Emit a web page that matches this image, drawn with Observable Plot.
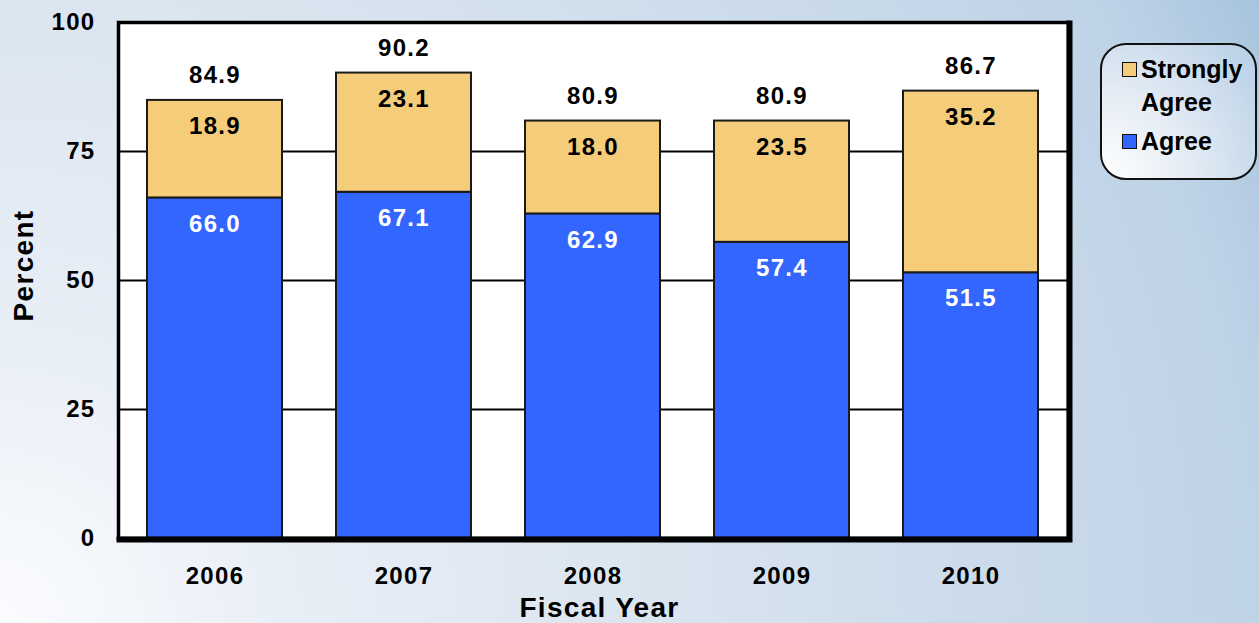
<!DOCTYPE html>
<html><head><meta charset="utf-8">
<script src="https://cdn.jsdelivr.net/npm/d3@7"></script>
<script src="https://cdn.jsdelivr.net/npm/@observablehq/plot@0.6"></script>
<style>
html,body{margin:0;padding:0;}
body{width:1259px;height:623px;overflow:hidden;background:radial-gradient(circle at 0% 100%,#fbfcfe 0px,#e8eef6 300px,#dce6f0 610px,#bfd3e7 1260px,#a7c4de 1405px);font-family:"Liberation Sans",Arial,sans-serif;}
#wrap{position:relative;width:1259px;height:623px;}
#legend{position:absolute;left:1100px;top:43px;width:153px;height:133px;border:2px solid #111;border-radius:26px;background:radial-gradient(circle at 0% 100%,#ffffff 0px,#e3ebf4 90px,#b7cfe6 200px,#a9c5df 240px);font-weight:bold;font-size:25px;color:#000;}
.item{position:absolute;left:20px;display:flex;align-items:flex-start;}
.sw{width:13px;height:13px;border:1.5px solid #111;margin-top:9px;margin-right:4px;flex:none;}
.lab{width:112px;line-height:33px;}
</style>
</head><body>
<div id="wrap"><div id="chart"></div><div id="legend"></div></div>
<script>
const years = ["2006", "2007", "2008", "2009", "2010"];
const agree = [66.0, 67.1, 62.9, 57.4, 51.5];
const strongly = [18.9, 23.1, 18.0, 23.5, 35.2];
const totals = [84.9, 90.2, 80.9, 80.9, 86.7];
const seriesNames = ["Strongly Agree", "Agree"];
const seriesColors = ["#f5cd7a", "#3366ff"];
const yTicks = [0, 25, 50, 75, 100];
const gridTicks = [25, 50, 75];

const rows = [];
years.forEach((y, i) => {
  rows.push({year: y, series: "Agree", value: agree[i]});
  rows.push({year: y, series: "Strongly Agree", value: strongly[i]});
});

const borderMark = (index, scales, values, dims) => {
  const x0 = dims.marginLeft, x1 = dims.width - dims.marginRight;
  const y0 = dims.marginTop, y1 = dims.height - dims.marginBottom;
  const g = d3.create("svg:g");
  g.append("path")
    .attr("d", `M${x1 + 1.5},${y0 - 1.5}V${y1 + 1.5}H${x0 - 1.5}`)
    .attr("fill", "none").attr("stroke", "#000").attr("stroke-width", 6);
  return g.node();
};

const plot = Plot.plot({
  width: 1259,
  height: 623,
  marginLeft: 118,
  marginRight: 191,
  marginTop: 22,
  marginBottom: 85,
  style: {background: "transparent", fontFamily: "'Liberation Sans', Arial, sans-serif", fontWeight: "bold", fontSize: "24px", color: "#000", letterSpacing: "1.3px"},
  x: {type: "band", domain: years, paddingInner: 0.285, paddingOuter: 0.15},
  y: {domain: [0, 100]},
  color: {domain: seriesNames, range: seriesColors},
  marks: [
    Plot.frame({fill: "white"}),
    Plot.ruleY(gridTicks, {stroke: "#000", strokeWidth: 2}),
    Plot.barY(rows, {x: "year", y: "value", fill: "series", stroke: "#1a1a1a", strokeWidth: 2}),
    Plot.text(years, {x: d => d, y: (d, i) => agree[i], text: (d, i) => agree[i].toFixed(1), fill: "white", dy: 26, fontSize: 24}),
    Plot.text(years, {x: d => d, y: (d, i) => agree[i] + strongly[i], text: (d, i) => strongly[i].toFixed(1), fill: "#000", dy: 26, fontSize: 24}),
    Plot.text(years, {x: d => d, y: (d, i) => totals[i], text: (d, i) => totals[i].toFixed(1), fill: "#000", dy: -25, fontSize: 24}),
    Plot.frame({stroke: "#000", strokeWidth: 3.5}),
    borderMark,
    Plot.axisY({ticks: yTicks, tickSize: 0, tickPadding: 23, label: null, fontSize: 24}),
    Plot.axisX({tickSize: 0, tickPadding: 28, label: null, fontSize: 24}),
    Plot.text(["Fiscal Year"], {frameAnchor: "bottom", lineAnchor: "middle", textAnchor: "middle", dy: 70, dx: 6, fontSize: 28, fill: "#000"}),
    Plot.text(["Percent"], {frameAnchor: "left", lineAnchor: "middle", textAnchor: "middle", dx: -94, dy: -15, rotate: -90, fontSize: 28, fill: "#000"})
  ]
});
document.getElementById("chart").appendChild(plot);

const legend = d3.select("#legend");
const tops = [8, 80];
seriesNames.forEach((name, i) => {
  const it = legend.append("div").attr("class", "item").style("top", tops[i] + "px");
  it.append("div").attr("class", "sw").style("background", seriesColors[i]);
  it.append("div").attr("class", "lab").text(name);
});
</script>
</body></html>
